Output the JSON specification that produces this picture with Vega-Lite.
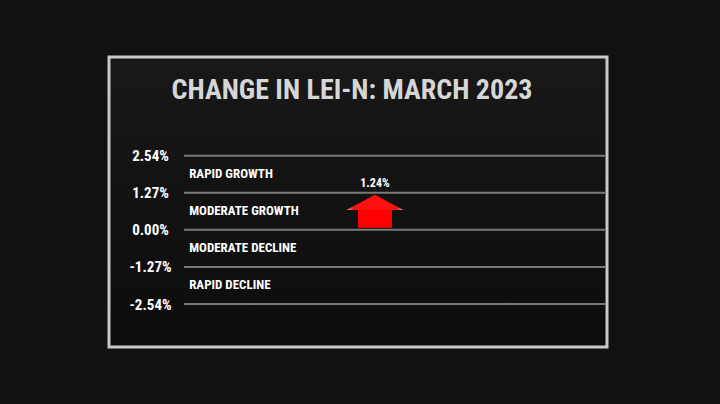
{
  "$schema": "https://vega.github.io/schema/vega-lite/v6.json",
  "width": 498,
  "height": 290,
  "autosize": {"type": "none"},
  "padding": {"left": 109, "top": 57, "right": 113, "bottom": 57},
  "background": "#111111",
  "title": {
    "text": "CHANGE IN LEI-N: MARCH 2023",
    "anchor": "middle",
    "frame": "group",
    "dx": -6,
    "offset": -70,
    "baseline": "alphabetic",
    "font": "Roboto Condensed, Liberation Sans Narrow, Roboto, sans-serif",
    "fontSize": 28,
    "fontWeight": "bold",
    "color": "#d6d6d6"
  },
  "datasets": {
    "levels": [
      {"level": 0.0254},
      {"level": 0.0127},
      {"level": 0},
      {"level": -0.0127},
      {"level": -0.0254}
    ],
    "bands": [
      {"band": "RAPID GROWTH", "lo": 0.0127, "hi": 0.0254},
      {"band": "MODERATE GROWTH", "lo": 0, "hi": 0.0127},
      {"band": "MODERATE DECLINE", "lo": -0.0127, "hi": 0},
      {"band": "RAPID DECLINE", "lo": -0.0254, "hi": -0.0127}
    ],
    "reading": [
      {"month": "March 2023", "value": 0.0124}
    ]
  },
  "layer": [
    {
      "data": {"name": "levels"},
      "mark": {"type": "rule", "color": "#7a7a7a", "strokeWidth": 2},
      "encoding": {
        "x": {"datum": 0.1506, "type": "quantitative", "scale": {"domain": [0, 1], "padding": 0, "nice": false, "zero": false}, "axis": null},
        "x2": {"datum": 0.996},
        "y": {
          "field": "level",
          "type": "quantitative",
          "scale": {"domain": [-0.04013, 0.05922], "nice": false, "zero": false, "padding": 0},
          "axis": {
            "orient": "left",
            "values": [0.0254, 0.0127, 0, -0.0127, -0.0254],
            "format": ".2%",
            "labelExpr": "replace(datum.label, '−', '-')",
            "title": null,
            "domain": false,
            "ticks": false,
            "tickSize": 0,
            "grid": false,
            "offset": -41,
            "labelPadding": 0,
            "labelAlign": "center",
            "labelBaseline": "middle",
            "labelColor": "#ffffff",
            "labelFont": "Roboto Condensed, Liberation Sans Narrow, Roboto, sans-serif",
            "labelFontSize": 15,
            "labelFontWeight": "bold"
          }
        }
      }
    },
    {
      "data": {"name": "bands"},
      "mark": {
        "type": "text",
        "align": "left",
        "baseline": "middle",
        "dy": 18.5,
        "color": "#ffffff",
        "font": "Roboto Condensed, Liberation Sans Narrow, Roboto, sans-serif",
        "fontSize": 13,
        "fontWeight": "bold"
      },
      "encoding": {
        "x": {"datum": 0.161, "type": "quantitative"},
        "y": {"field": "hi", "type": "quantitative"},
        "text": {"field": "band", "type": "nominal"}
      }
    },
    {
      "data": {"name": "reading"},
      "mark": {"type": "bar", "size": 34, "yOffset": 15, "y2Offset": -2, "color": "#ff0000"},
      "encoding": {
        "x": {"datum": 0.534, "type": "quantitative"},
        "y": {"field": "value", "type": "quantitative"},
        "y2": {"datum": 0}
      }
    },
    {
      "data": {"name": "reading"},
      "mark": {
        "type": "point",
        "shape": "M0,0 L1,0.54 L-1,0.54 Z",
        "filled": true,
        "opacity": 1,
        "size": 3249,
        "yOffset": 1,
        "strokeWidth": 0,
        "color": {
          "gradient": "linear",
          "x1": 0, "y1": 0, "x2": 1, "y2": 0,
          "stops": [
            {"offset": 0, "color": "#ff9a9a"},
            {"offset": 0.12, "color": "#ff1010"},
            {"offset": 0.88, "color": "#ff1010"},
            {"offset": 1, "color": "#ff9a9a"}
          ]
        }
      },
      "encoding": {
        "x": {"datum": 0.534, "type": "quantitative"},
        "y": {"field": "value", "type": "quantitative"}
      }
    },
    {
      "data": {"name": "reading"},
      "mark": {
        "type": "text",
        "align": "center",
        "baseline": "alphabetic",
        "dy": -7,
        "color": "#ffffff",
        "font": "Roboto Condensed, Liberation Sans Narrow, Roboto, sans-serif",
        "fontSize": 12,
        "fontWeight": "bold"
      },
      "encoding": {
        "x": {"datum": 0.534, "type": "quantitative"},
        "y": {"field": "value", "type": "quantitative"},
        "text": {"field": "value", "type": "quantitative", "format": ".2%"}
      }
    }
  ],
  "config": {
    "view": {
      "fill": {
        "gradient": "linear",
        "x1": 0, "y1": 0, "x2": 0, "y2": 1,
        "stops": [
          {"offset": 0, "color": "#181818"},
          {"offset": 1, "color": "#0c0c0c"}
        ]
      },
      "stroke": "#c8c8c8",
      "strokeWidth": 3
    }
  }
}
